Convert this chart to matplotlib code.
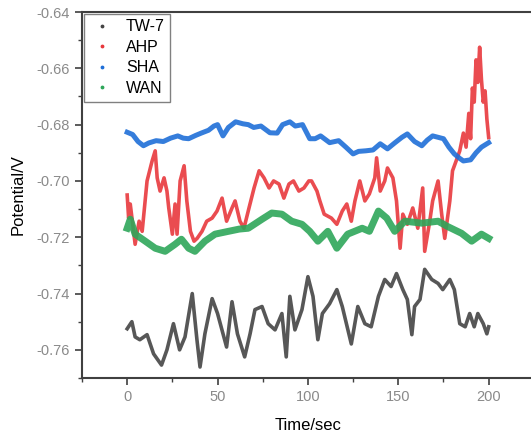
import matplotlib
matplotlib.use('Agg')
import matplotlib.pyplot as plt
from matplotlib.lines import Line2D
from matplotlib.ticker import MultipleLocator

plt.rcParams['font.family'] = ['Liberation Sans', 'DejaVu Sans']

# TW-7 (dark grey)
tw7_t = [0, 2.6, 4.4, 7, 11, 14.6, 19, 22, 25.6, 29, 32, 36, 38.6, 40.3, 43, 47, 50, 55, 58, 61,
         65, 68, 70.7, 74.6, 78, 81.8, 85.6, 88, 90, 92.8, 96.7, 100, 102.8, 105.5, 108, 112, 116,
         119, 124, 127.6, 131.5, 135, 139, 142.5, 146, 149, 152.5, 155, 157.5, 159, 162, 164.6,
         168.5, 172, 174.6, 178.5, 181, 184, 187, 189.5, 192, 194, 197, 199, 200]
tw7_v = [-0.7525, -0.7500, -0.7554, -0.7564, -0.7546, -0.7614, -0.7654, -0.7600, -0.7507, -0.7600,
         -0.7554, -0.7400, -0.7564, -0.7661, -0.7543, -0.7418, -0.7471, -0.7590, -0.7429, -0.7543,
         -0.7625, -0.7543, -0.7457, -0.7446, -0.7507, -0.7529, -0.7471, -0.7625, -0.7410, -0.7529,
         -0.7457, -0.7340, -0.7410, -0.7564, -0.7471, -0.7436, -0.7386, -0.7446, -0.7579, -0.7446,
         -0.7507, -0.7518, -0.7410, -0.7350, -0.7375, -0.7329, -0.7386, -0.7421, -0.7546, -0.7446,
         -0.7421, -0.7314, -0.7350, -0.7364, -0.7386, -0.7350, -0.7386, -0.7507, -0.7518, -0.7471,
         -0.7518, -0.7471, -0.7507, -0.7543, -0.7518]

# AHP (red)
ahp_t = [0, 0.8, 1.7, 3, 4.4, 6.6, 8.3, 11, 13.8, 15.5, 16.6, 18.2, 20.4, 22, 23, 25, 26.5, 27.6,
         29.3, 31.5, 33, 35, 37, 38.7, 41.4, 44, 47, 49.7, 52.5, 55, 58, 59.7, 62.4, 64.6, 67.4,
         70.2, 73, 75.7, 78.5, 81, 84, 86.7, 89.5, 92, 95, 97.8, 100.5, 102, 105, 106.6, 109, 113,
         116, 119, 121.5, 124, 126, 128.7, 131.5, 134, 137, 138, 140, 142.5, 144, 147, 149, 151,
         152.5, 155, 158, 160.8, 163.5, 164.6, 167.4, 169, 172, 174, 175.7, 178.5, 180, 182, 184,
         186, 187.5, 189, 190, 191, 192, 193, 194, 195, 196, 197, 198, 199, 200]
ahp_v = [-0.7050, -0.7132, -0.7082, -0.7150, -0.7225, -0.7143, -0.7179, -0.7000, -0.6929, -0.6893,
         -0.6989, -0.7036, -0.6989, -0.7036, -0.7096, -0.7189, -0.7082, -0.7189, -0.7000, -0.6946,
         -0.7071, -0.7179, -0.7214, -0.7204, -0.7179, -0.7143, -0.7132, -0.7107, -0.7061, -0.7143,
         -0.7096, -0.7071, -0.7143, -0.7168, -0.7096, -0.7025, -0.6964, -0.6989, -0.7025, -0.7000,
         -0.7011, -0.7061, -0.7011, -0.7000, -0.7036, -0.7025, -0.7000, -0.7000, -0.7036, -0.7071,
         -0.7118, -0.7132, -0.7154, -0.7107, -0.7082, -0.7143, -0.7071, -0.7000, -0.7071, -0.7046,
         -0.6989, -0.6918, -0.7036, -0.7000, -0.6954, -0.6989, -0.7071, -0.7239, -0.7118, -0.7154,
         -0.7096, -0.7168, -0.7025, -0.7250, -0.7143, -0.7071, -0.7000, -0.7118, -0.7204, -0.7071,
         -0.6964, -0.6929, -0.6893, -0.6830, -0.6880, -0.6760, -0.6850, -0.6670, -0.6720, -0.6570,
         -0.6650, -0.6525, -0.6640, -0.6720, -0.6680, -0.6780, -0.6846]

# SHA (blue)
sha_t = [0, 3, 6, 9, 12, 16, 20, 24, 28, 31, 34, 38, 41, 45, 48, 50, 53, 56, 60, 64, 67, 70, 74,
         79, 83, 86, 90, 93, 97, 101, 104, 107, 112, 117, 121, 125, 128, 132, 136, 140, 144, 148,
         152, 155, 159, 163, 166, 169, 172, 175, 178, 181, 184, 186, 190, 193, 196, 200]
sha_v = [-0.6827, -0.6835, -0.6860, -0.6875, -0.6865, -0.6857, -0.6860, -0.6848, -0.6840, -0.6848,
         -0.6850, -0.6838, -0.6830, -0.6820, -0.6805, -0.6800, -0.6840, -0.6810, -0.6790, -0.6797,
         -0.6800, -0.6810, -0.6805, -0.6829, -0.6830, -0.6800, -0.6790, -0.6805, -0.6800, -0.6850,
         -0.6850, -0.6840, -0.6864, -0.6857, -0.6880, -0.6904, -0.6895, -0.6893, -0.6890, -0.6868,
         -0.6886, -0.6865, -0.6845, -0.6833, -0.6860, -0.6875, -0.6855, -0.6840, -0.6845, -0.6850,
         -0.6880, -0.6904, -0.6920, -0.6929, -0.6925, -0.6900, -0.6880, -0.6864]

# WAN (green)
wan_t = [0, 1.7, 4.4, 10, 15.5, 21, 26.5, 30, 34, 37.5, 43, 48.6, 56, 62, 67, 74.6, 80, 85.6, 91,
         96.7, 101, 105.5, 111, 116, 122, 130, 134, 139, 143.6, 148, 153.6, 163, 172, 177, 185,
         190.6, 196, 200]
wan_v = [-0.7168, -0.7136, -0.7189, -0.7214, -0.7239, -0.7250, -0.7225, -0.7207, -0.7239, -0.7250,
         -0.7214, -0.7189, -0.7179, -0.7171, -0.7168, -0.7136, -0.7114, -0.7118, -0.7143, -0.7154,
         -0.7179, -0.7214, -0.7179, -0.7239, -0.7189, -0.7168, -0.7179, -0.7107, -0.7132, -0.7179,
         -0.7143, -0.7150, -0.7143, -0.7161, -0.7186, -0.7214, -0.7189, -0.7204]

series = [('TW-7', tw7_t, tw7_v, '#454545'),
          ('AHP', ahp_t, ahp_v, '#e8383d'),
          ('SHA', sha_t, sha_v, '#1f6fd8'),
          ('WAN', wan_t, wan_v, '#2ea65a')]

fig = plt.figure(figsize=(5.31, 4.34), dpi=100)
ax = fig.add_axes([0.1544, 0.129, 0.851, 0.8433])

widths = {'TW-7': 2.6, 'AHP': 2.6, 'SHA': 3.6, 'WAN': 5.0}
for name, t, v, c in series:
    ax.plot(t, v, color=c, lw=widths[name], alpha=0.9)

ax.set_xlim(-25, 225)
ax.set_ylim(-0.77, -0.64)
ax.xaxis.set_major_locator(MultipleLocator(50))
ax.xaxis.set_minor_locator(MultipleLocator(25))
ax.yaxis.set_major_locator(MultipleLocator(0.02))
ax.yaxis.set_minor_locator(MultipleLocator(0.01))
ax.yaxis.set_major_formatter(plt.FuncFormatter(lambda y, p: '%.2f' % y))

for s in ['left', 'bottom', 'top', 'right']:
    ax.spines[s].set_color('#404040')
    ax.spines[s].set_linewidth(1.5)
ax.tick_params(which='major', direction='out', length=5, width=1.2, color='#404040',
               labelsize=10.5, labelcolor='#8a8a8a')
ax.tick_params(which='minor', direction='out', length=3, width=1.0, color='#404040')

ax.set_xlabel('Time/sec', fontsize=12, labelpad=10)
ax.set_ylabel('Potential/V', fontsize=12, labelpad=8)

handles = [Line2D([], [], ls='none', marker='.', ms=3.5, color=c) for _, _, _, c in series]
leg = ax.legend(handles, [s[0] for s in series], loc='upper left', bbox_to_anchor=(0, 1),
                borderaxespad=0.1, fancybox=False, edgecolor='#606060', fontsize=11.5,
                handlelength=1.6, labelspacing=0.35, handletextpad=0.7, borderpad=0.35)
leg.get_frame().set_linewidth(1.0)

plt.savefig('out.png', dpi=100)
plt.close()
